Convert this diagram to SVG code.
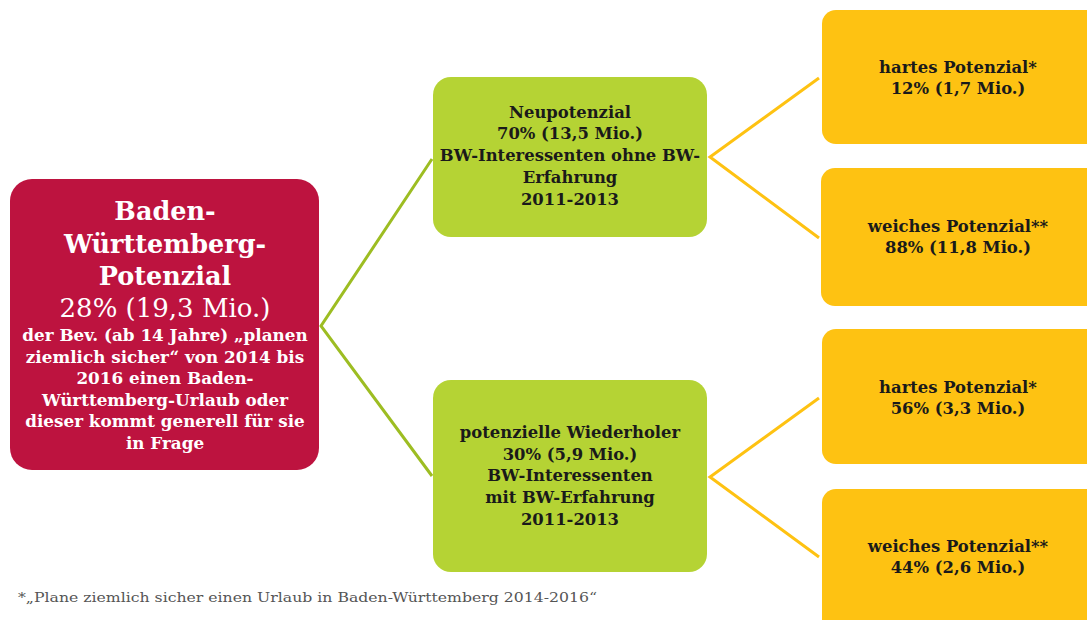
<svg xmlns="http://www.w3.org/2000/svg" width="1087" height="620" viewBox="0 0 1087 620">
<style>
text{font-family:"DejaVu Serif","Liberation Serif",serif;text-anchor:middle;font-weight:bold}
.red{fill:#BD133F}
.green{fill:#B5D334}
.orange{fill:#FEC212}
.dk{fill:#1a1a1a;font-size:16.4px}
.wh{fill:#ffffff}
.big{font-size:25.5px}
.pct{font-size:26px;font-weight:normal}
.sm{font-size:16.8px}
.gl{stroke:#9DBD22;stroke-width:3;fill:none}
.ol{stroke:#FEC212;stroke-width:3;fill:none}
.foot{fill:#555555;font-size:13px;text-anchor:start;font-weight:normal}
</style>
<rect width="1087" height="620" fill="#ffffff"/>
<g id="connectors">
<polyline class="gl" points="432,159 321,326 432,476"/>
<polyline class="ol" points="819,78 710,157 819,238"/>
<polyline class="ol" points="819,398 710,477 819,557"/>
</g>
<g id="root">
<rect class="red" x="10" y="179" width="309" height="291" rx="22"/>
<text class="wh big" x="165" y="220">Baden-</text>
<text class="wh big" x="165" y="253">Württemberg-</text>
<text class="wh big" x="165" y="285">Potenzial</text>
<text class="wh pct" x="165" y="317">28% (19,3 Mio.)</text>
<text class="wh sm" x="165" y="341">der Bev. (ab 14 Jahre) „planen</text>
<text class="wh sm" x="165" y="363">ziemlich sicher“ von 2014 bis</text>
<text class="wh sm" x="165" y="384">2016 einen Baden-</text>
<text class="wh sm" x="165" y="406">Württemberg-Urlaub oder</text>
<text class="wh sm" x="165" y="427">dieser kommt generell für sie</text>
<text class="wh sm" x="165" y="449">in Frage</text>
</g>
<g id="neu">
<rect class="green" x="433" y="77" width="274" height="160" rx="18"/>
<text class="dk" x="570" y="118">Neupotenzial</text>
<text class="dk" x="570" y="139">70% (13,5 Mio.)</text>
<text class="dk" x="570" y="161">BW-Interessenten ohne BW-</text>
<text class="dk" x="570" y="183">Erfahrung</text>
<text class="dk" x="570" y="205">2011-2013</text>
</g>
<g id="wieder">
<rect class="green" x="433" y="380" width="274" height="192" rx="18"/>
<text class="dk" x="570" y="438">potenzielle Wiederholer</text>
<text class="dk" x="570" y="460">30% (5,9 Mio.)</text>
<text class="dk" x="570" y="481">BW-Interessenten</text>
<text class="dk" x="570" y="503">mit BW-Erfahrung</text>
<text class="dk" x="570" y="525">2011-2013</text>
</g>
<g id="hart1">
<rect class="orange" x="822" y="10" width="285" height="134" rx="14"/>
<text class="dk" x="958" y="73">hartes Potenzial*</text>
<text class="dk" x="958" y="94">12% (1,7 Mio.)</text>
</g>
<g id="weich1">
<rect class="orange" x="821" y="168" width="286" height="138" rx="14"/>
<text class="dk" x="958" y="232">weiches Potenzial**</text>
<text class="dk" x="958" y="253">88% (11,8 Mio.)</text>
</g>
<g id="hart2">
<rect class="orange" x="822" y="329" width="285" height="135" rx="14"/>
<text class="dk" x="958" y="393">hartes Potenzial*</text>
<text class="dk" x="958" y="414">56% (3,3 Mio.)</text>
</g>
<g id="weich2">
<rect class="orange" x="822" y="489" width="285" height="150" rx="14"/>
<text class="dk" x="958" y="552">weiches Potenzial**</text>
<text class="dk" x="958" y="573">44% (2,6 Mio.)</text>
</g>
<text class="foot" x="18" y="602" textLength="579" lengthAdjust="spacingAndGlyphs">*„Plane ziemlich sicher einen Urlaub in Baden-Württemberg 2014-2016“</text>
</svg>
